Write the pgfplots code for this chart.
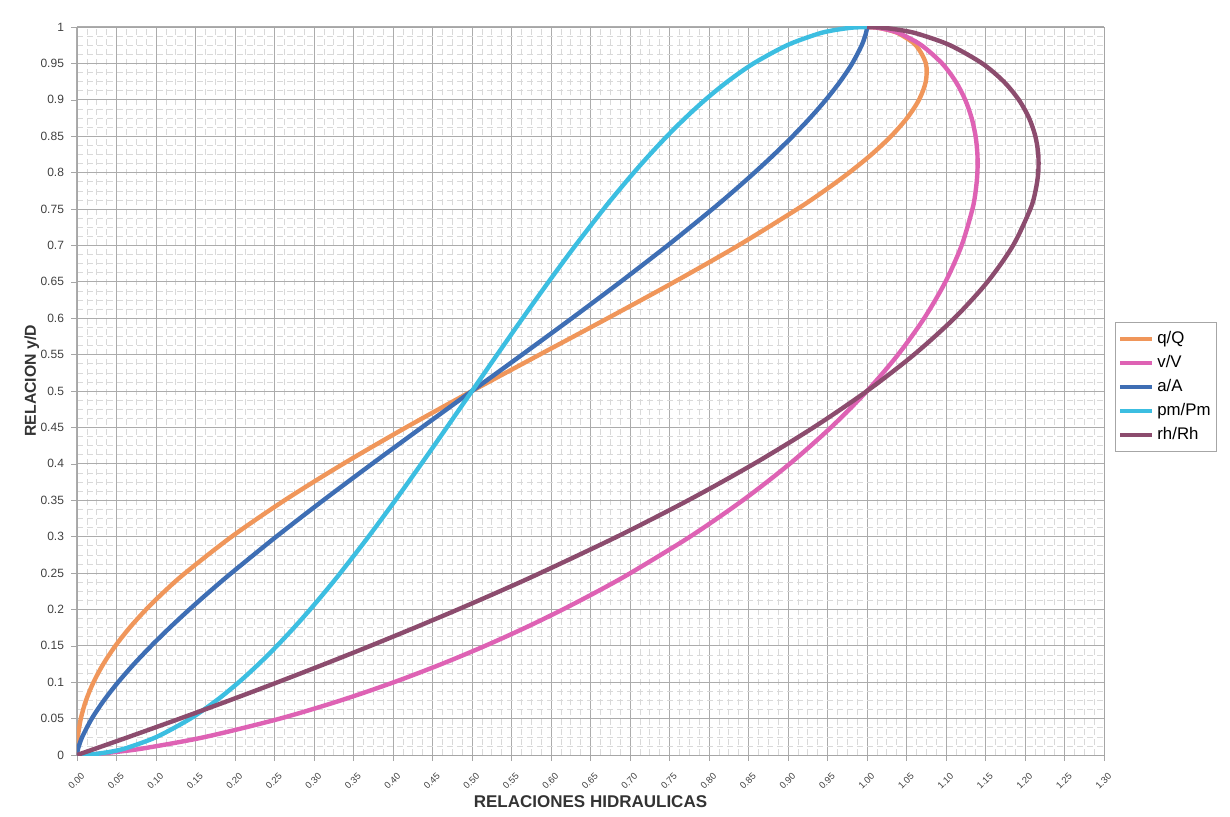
\documentclass[border=0pt]{standalone}
\usepackage{fontspec}
\setmainfont{Liberation Sans}
\usepackage{pgfplots}
\pgfplotsset{compat=1.18}
\usepackage{pgfplotstable}
\definecolor{cq}{RGB}{240,150,90}
\definecolor{cv}{RGB}{222,98,180}
\definecolor{ca}{RGB}{62,110,180}
\definecolor{cp}{RGB}{60,190,225}
\definecolor{cr}{RGB}{140,76,110}
\pgfplotstableread{
h      q          v         a          p         r
0      0          0         0          0         0
0.001  0.000001   0.019234  0.0000537  0.020133  0.002667
0.005  0.0000336  0.056134  0.000599   0.045054  0.013302
0.01   0.000151   0.08898   0.001693   0.06377   0.026546
0.025  0.001086   0.16312   0.006660   0.101082  0.06589
0.05   0.004802   0.25688   0.018693   0.143566  0.13021
0.075  0.011377   0.33389   0.034074   0.176601  0.19294
0.1    0.020878   0.40116   0.052044   0.204833  0.25408
0.125  0.033302   0.46159   0.072147   0.230053  0.31361
0.15   0.048609   0.51679   0.094060   0.253183  0.37151
0.175  0.066732   0.56775   0.117538   0.274769  0.42777
0.2    0.087575   0.61509   0.142378   0.295167  0.48237
0.225  0.111031   0.65927   0.168415   0.314627  0.53529
0.25   0.136984   0.70068   0.195501   0.333333  0.586503
0.3    0.195832   0.77614   0.252316   0.369010  0.68377
0.35   0.262939   0.84297   0.311919   0.403013  0.77397
0.4    0.336988   0.90217   0.373530   0.435906  0.85690
0.45   0.416529   0.95437   0.436444   0.468115  0.93234
0.5    0.5        1         0.5        0.5       1
0.55   0.585710   1.03931   0.563556   0.531885  1.05954
0.6    0.671838   1.07242   0.626470   0.564094  1.11058
0.65   0.756408   1.09930   0.688081   0.596987  1.15259
0.7    0.837234   1.11977   0.747684   0.630990  1.18494
0.75   0.911875   1.13347   0.804499   0.666667  1.206749
0.775  0.945999   1.13759   0.831585   0.685373  1.213316
0.8    0.977465   1.13974   0.857622   0.704833  1.21677
0.825  1.005795   1.13976   0.882462   0.725231  1.216798
0.85   1.030442   1.13743   0.905940   0.746817  1.21307
0.875  1.050729   1.13243   0.927853   0.769947  1.205088
0.9    1.065797   1.12431   0.947956   0.795167  1.19215
0.925  1.074400   1.11230   0.965926   0.823399  1.173095
0.95   1.074502   1.09497   0.981307   0.856434  1.14580
0.975  1.061741   1.06886   0.993340   0.898918  1.105039
0.99   1.041953   1.04372   0.998307   0.936230  1.066298
0.995  1.030179   1.030796  0.999401   0.954946  1.046547
0.999  1.013561   1.013615  0.999946   0.979867  1.020492
1      1          1         1          1         1
}\hyd
\begin{document}
\begin{tikzpicture}
\begin{axis}[
  at={(0,0)}, anchor=south west,
  scale only axis,
  width=513.5pt, height=364pt,
  xmin=0, xmax=1.30, ymin=0, ymax=1,
  xtick={0,0.05,0.10,0.15,0.20,0.25,0.30,0.35,0.40,0.45,0.50,0.55,0.60,0.65,0.70,0.75,0.80,0.85,0.90,0.95,1.00,1.05,1.10,1.15,1.20,1.25,1.30},
  ytick={0,0.05,0.10,0.15,0.20,0.25,0.30,0.35,0.40,0.45,0.50,0.55,0.60,0.65,0.70,0.75,0.80,0.85,0.90,0.95,1.00},
  minor x tick num=3, minor y tick num=3,
  grid=both,
  major grid style={gray!65, line width=0.5pt},
  minor grid style={gray!30, line width=0.3pt, densely dashed},
  axis line style={gray!70},
  tick style={gray!70},
  minor tick length=0pt,
  major tick length=3pt,
  tick align=outside,
  tick pos=left,
  scaled x ticks=false, scaled y ticks=false,
  /pgf/number format/assume math mode=true,
  xticklabel style={/pgf/number format/fixed, /pgf/number format/fixed zerofill, /pgf/number format/precision=2,
     rotate=45, anchor=north east, yshift=-4.5pt, xshift=-2pt, inner sep=0.5pt, font=\fontsize{4.7}{5}\selectfont, text=black!75},
  yticklabel style={/pgf/number format/fixed, /pgf/number format/precision=2,
     font=\fontsize{6}{7}\selectfont, text=black!75},
  xlabel={\textbf{RELACIONES HIDRAULICAS}},
  ylabel={\textbf{RELACION y/D}},
  xlabel style={font=\fontsize{8.5}{10}\selectfont, text=black!80, at={(axis description cs:0.50,-0.0646)}, anchor=center},
  ylabel style={font=\fontsize{7.9}{9}\selectfont, text=black!80, at={(axis description cs:-0.044,0.514)}, anchor=center, rotate=0},
  legend style={at={(axis description cs:1.0107,0.595)}, anchor=north west,
     draw=gray!70, font=\fontsize{8.4}{9}\selectfont, row sep=0.4pt, inner xsep=1.5pt, inner ysep=2.5pt,
     nodes={inner xsep=1.5pt}},
  legend cell align=left,
  legend image code/.code={\draw[line width=2pt,#1] (0pt,0pt) -- (16pt,0pt);},
  every axis plot/.append style={line width=2.2pt, smooth, no markers},
]
\addplot[cq] table[x=q, y=h]{\hyd};
\addlegendentry{q/Q}
\addplot[cv] table[x=v, y=h]{\hyd};
\addlegendentry{v/V}
\addplot[ca] table[x=a, y=h]{\hyd};
\addlegendentry{a/A}
\addplot[cp] table[x=p, y=h]{\hyd};
\addlegendentry{pm/Pm}
\addplot[cr] table[x=r, y=h]{\hyd};
\addlegendentry{rh/Rh}
\end{axis}
\pgfresetboundingbox
\path[use as bounding box] (-38.5pt,-30.5pt) rectangle (576.5pt,377.5pt);
\end{tikzpicture}
\end{document}
